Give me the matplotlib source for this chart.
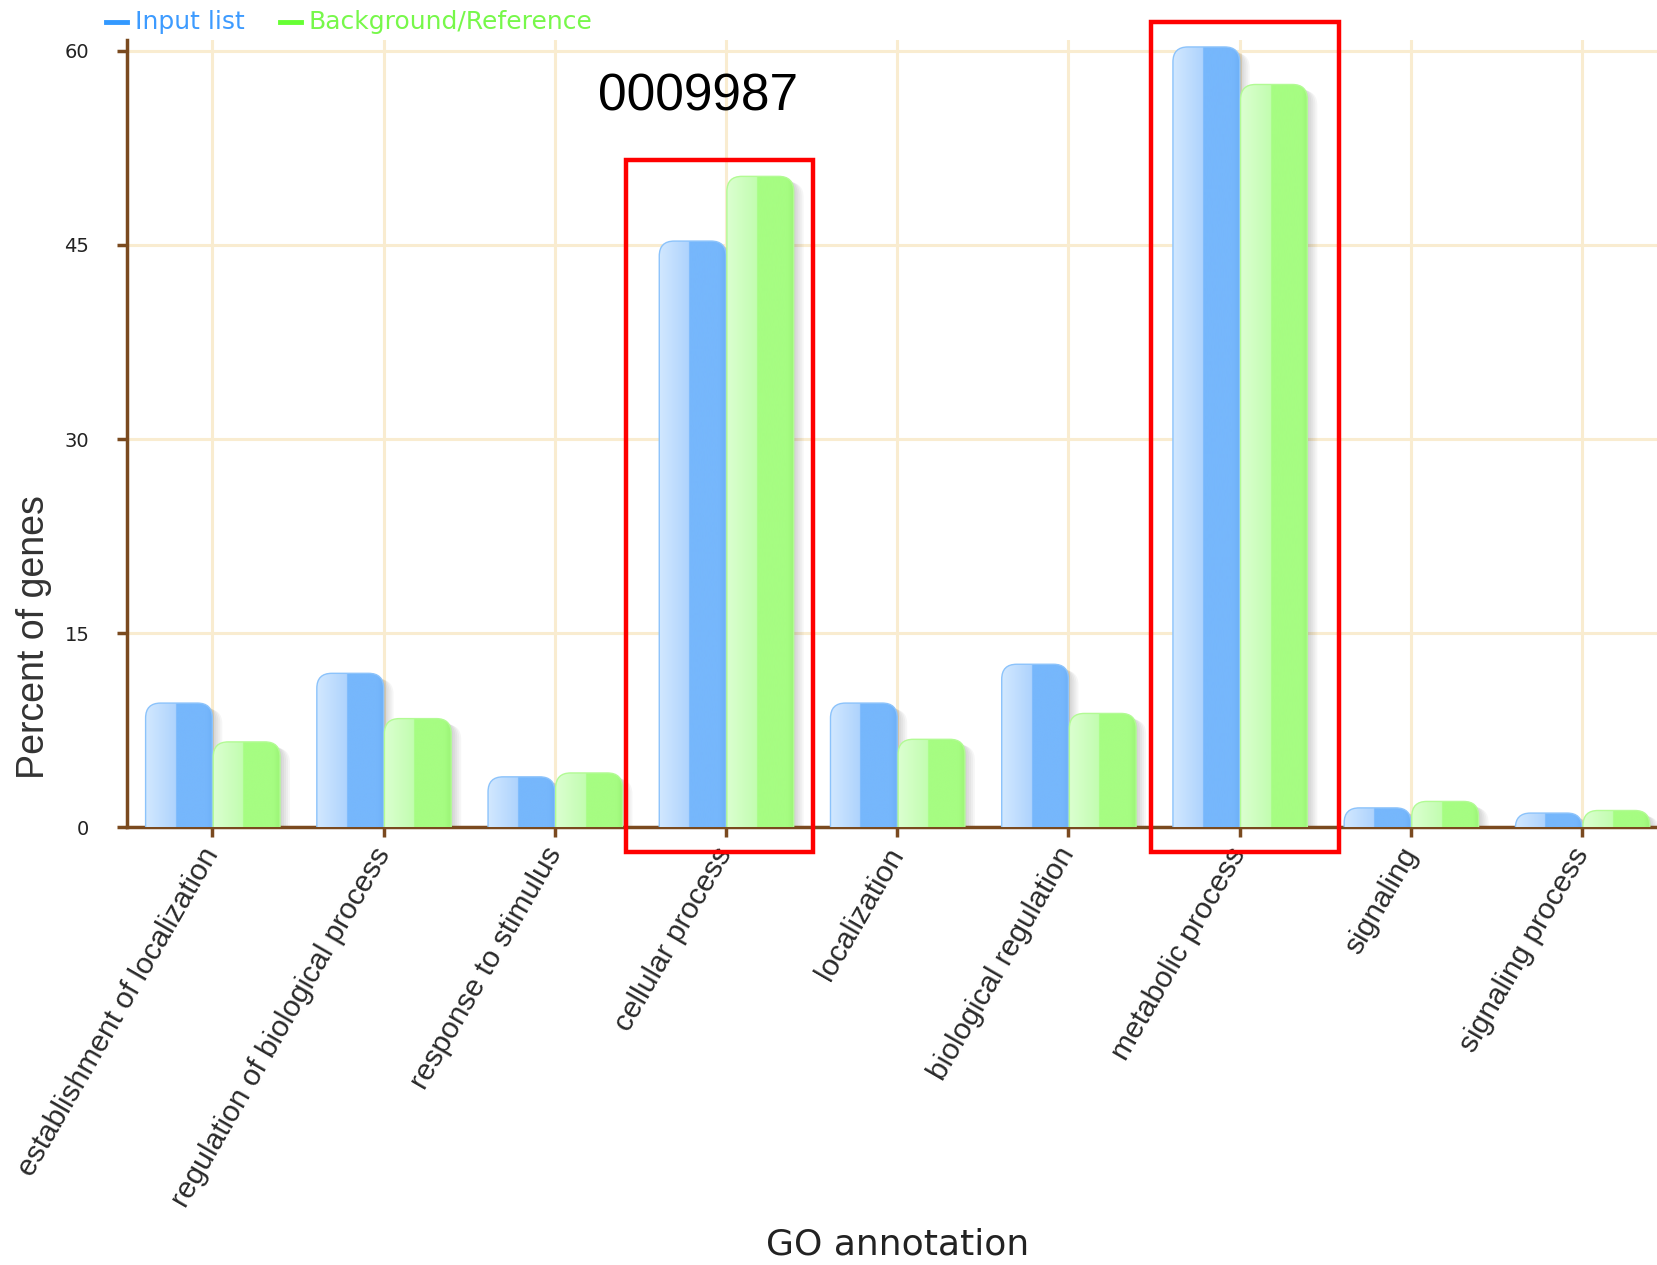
import numpy as np
import matplotlib
matplotlib.use("Agg")
import matplotlib.pyplot as plt
from matplotlib.patches import FancyBboxPatch, Rectangle
from matplotlib.lines import Line2D
from matplotlib.colors import to_rgb

categories = ["establishment of localization", "regulation of biological process",
              "response to stimulus", "cellular process", "localization",
              "biological regulation", "metabolic process", "signaling",
              "signaling process"]
input_list = [9.6, 11.9, 3.9, 45.3, 9.6, 12.6, 60.3, 1.5, 1.1]
background = [6.6, 8.4, 4.2, 50.3, 6.8, 8.8, 57.4, 2.0, 1.3]
yticks = [0, 15, 30, 45, 60]
highlight_idx = [3, 6]
annotation = "0009987"

W, H = 1657, 1265
fig = plt.figure(figsize=(W / 100, H / 100), dpi=100)
ax = fig.add_axes([0.0765, 0.346, 0.93, 0.622])
ax.set_xlim(-0.5, len(categories) - 0.5)
ax.set_ylim(0, 60.8)

brown = "#7a4a1f"
gridc = "#f9ecd0"

ax.set_axisbelow(True)
ax.grid(True, color=gridc, lw=2.2)
for s in ["top", "right"]:
    ax.spines[s].set_visible(False)
for s in ["left", "bottom"]:
    ax.spines[s].set_color(brown)
    ax.spines[s].set_linewidth(2.5)
ax.spines["left"].set_bounds(0, 60.8)

x = np.arange(len(categories))
ax.set_xticks(x)
ax.set_xticklabels(categories, rotation=60, ha="right", va="center",
                   rotation_mode="anchor", fontsize=21.5,
                   family=["Liberation Sans", "DejaVu Sans"], color="#2a2a2a")
ax.set_yticks(yticks)
ax.set_yticklabels([str(v) for v in yticks], fontsize=14,
                   family="DejaVu Sans", color="#222222")
ax.tick_params(axis="y", length=7, width=2.5, color=brown, pad=20)
ax.tick_params(axis="x", length=7, width=2.5, color=brown, pad=9)

bw = 0.39
blue_bars = ax.bar(x - 0.195, input_list, width=bw, color="none", edgecolor="none")
green_bars = ax.bar(x + 0.2, background, width=bw, color="none", edgecolor="none")

fig.canvas.draw()
bb = ax.get_window_extent()
ppx = bb.width / (ax.get_xlim()[1] - ax.get_xlim()[0])
ppy = bb.height / (ax.get_ylim()[1] - ax.get_ylim()[0])
aspect = ppx / ppy
r = 15 / ppx


def grad(light1, light2, main, dark):
    n = 200
    arr = np.zeros((1, n, 3))
    c1, c2, cm, cd = map(np.array, map(to_rgb, (light1, light2, main, dark)))
    for i in range(n):
        t = i / (n - 1)
        if t < 0.45:
            arr[0, i] = c1 + (c2 - c1) * (t / 0.45)
        elif t < 0.9:
            arr[0, i] = cm
        else:
            arr[0, i] = cm + (cd - cm) * ((t - 0.9) / 0.1)
    return arr


blue_grad = grad("#d2e8ff", "#aed3fd", "#76b7fc", "#6eb0f7")
green_grad = grad("#dbffd0", "#c2fdb0", "#a6fd82", "#9cf577")

for bars, g, edge in ((blue_bars, blue_grad, "#8cc3fb"), (green_bars, green_grad, "#b2fb94")):
    for rect in bars:
        x0, w, h = rect.get_x(), rect.get_width(), rect.get_height()
        # soft shadow
        for k in range(5):
            off = (2 + 2 * k) / ppx
            sh = FancyBboxPatch((x0 + off, -3), w, h + 3 - (2 + k) / ppy,
                                boxstyle=f"round,pad=0,rounding_size={r}",
                                mutation_aspect=aspect, facecolor="#000000",
                                edgecolor="none", alpha=0.035, zorder=2)
            ax.add_patch(sh)
        p = FancyBboxPatch((x0, -3), w, h + 3,
                           boxstyle=f"round,pad=0,rounding_size={r}",
                           mutation_aspect=aspect, facecolor="none",
                           edgecolor=edge, lw=1.0, zorder=4)
        ax.add_patch(p)
        im = ax.imshow(g, extent=(x0, x0 + w, -3, h), aspect="auto",
                       origin="lower", interpolation="bilinear", zorder=3)
        im.set_clip_path(p)

ax.set_xlim(-0.5, len(categories) - 0.5)
ax.set_ylim(0, 60.8)

# red highlight boxes
boxes = [(-0.586, 0.506, 51.6), (-0.52, 0.58, 62.2)]
for idx, (l, rr, top) in zip(highlight_idx, boxes):
    ax.add_patch(Rectangle((idx + l, -1.88), rr - l, top + 1.88, fill=False,
                           edgecolor="#ff0000", lw=3.2, clip_on=False, zorder=6))

fig.text(0.421, 0.923, annotation, fontsize=37, family="Liberation Sans",
         ha="center", va="center", color="black")

# legend
ly = 0.983
fig.add_artist(Line2D([100 / 1568, 120 / 1568], [ly, ly], color="#3399ff", lw=3.5))
fig.text(128 / 1568, ly, "Input list", color="#3d9bff", fontsize=18,
         family="DejaVu Sans", va="center", ha="left")
fig.add_artist(Line2D([265 / 1568, 285 / 1568], [ly, ly], color="#66ff33", lw=3.5))
fig.text(292 / 1568, ly, "Background/Reference", color="#77f84a", fontsize=18,
         family="DejaVu Sans", va="center", ha="left")

fig.text(0.0204, 0.496, "Percent of genes", rotation=90, fontsize=27,
         family="Liberation Sans", color="#333333", ha="center", va="center")
fig.text(0.542, 0.016, "GO annotation", fontsize=26, family="DejaVu Sans",
         color="#222222", ha="center", va="center")

fig.savefig("out.png", dpi=100, facecolor="white")
